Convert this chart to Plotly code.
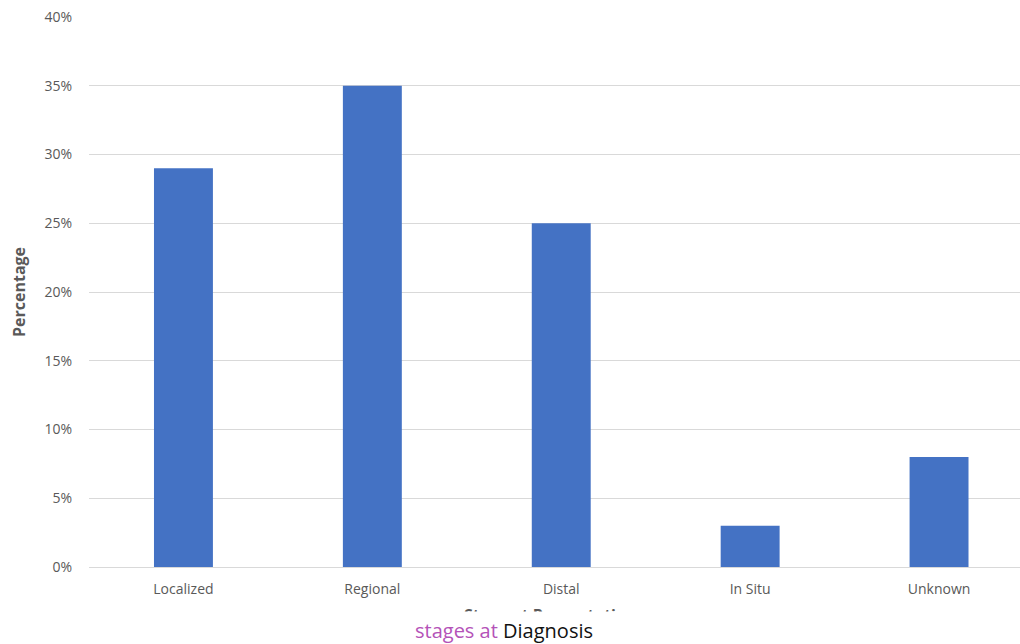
import plotly.graph_objects as go

stages = ["Localized", "Regional", "Distal", "In Situ", "Unknown"]
percent = [0.29, 0.35, 0.25, 0.03, 0.08]
y_ticks = [0, 0.05, 0.10, 0.15, 0.20, 0.25, 0.30, 0.35, 0.40]

W, H = 1020, 644
L, R, T, B = 88.5, 0, 17, 77
pw, ph = W - L - R, H - T - B


def px_x(x):
    return (x - L) / pw


def px_y(y):
    return (H - B - y) / ph


fig = go.Figure(
    go.Bar(
        x=list(range(len(stages))),
        y=percent,
        marker=dict(color="#4472C4", line=dict(width=0)),
        hoverinfo="x+y",
    )
)

fig.update_layout(
    width=W,
    height=H,
    margin=dict(l=L, r=R, t=T, b=B, pad=0),
    paper_bgcolor="white",
    plot_bgcolor="white",
    bargap=0.688,
    showlegend=False,
    font=dict(family="Open Sans, Noto Sans, sans-serif", color="#595959", size=13),
)

fig.update_xaxes(
    range=[-0.5, -0.5 + pw / 189.0],
    tickmode="array",
    tickvals=list(range(len(stages))),
    ticktext=stages,
    showgrid=False,
    zeroline=False,
    showline=False,
    ticks="",
    ticklabelstandoff=12,
    tickfont=dict(size=14, color="#595959"),
)

fig.update_yaxes(
    range=[0, 0.4],
    tickmode="array",
    tickvals=y_ticks,
    ticktext=[f"{round(v * 100)}%" for v in y_ticks],
    showgrid=True,
    gridcolor="#D9D9D9",
    gridwidth=1,
    zeroline=True,
    zerolinecolor="#D9D9D9",
    zerolinewidth=1,
    ticks="",
    ticklabelstandoff=16,
    tickfont=dict(size=14, color="#595959"),
    title=dict(
        text="<b>Percentage</b>",
        font=dict(size=16, color="#595959"),
        standoff=14,
    ),
)

# axis title, its lower part hidden beneath the caption strip
fig.add_annotation(
    text="<b>Stage at Presentation</b>",
    xref="paper", yref="paper",
    x=px_x(550), y=px_y(615),
    xanchor="center", yanchor="middle",
    showarrow=False,
    font=dict(size=16, color="#595959"),
)
fig.add_annotation(
    text=" ",
    xref="paper", yref="paper",
    x=px_x(560), y=px_y(631),
    xanchor="center", yanchor="middle",
    width=420, height=38,
    bgcolor="white",
    borderpad=0,
    showarrow=False,
)
fig.add_annotation(
    text="<span style='color:#B452B8'>stages at</span> <span style='color:#111111'>Diagnosis</span>",
    xref="paper", yref="paper",
    x=px_x(504), y=px_y(630),
    xanchor="center", yanchor="middle",
    showarrow=False,
    font=dict(family="Open Sans, Noto Sans, sans-serif", size=20),
)

fig.write_html("out.html")
